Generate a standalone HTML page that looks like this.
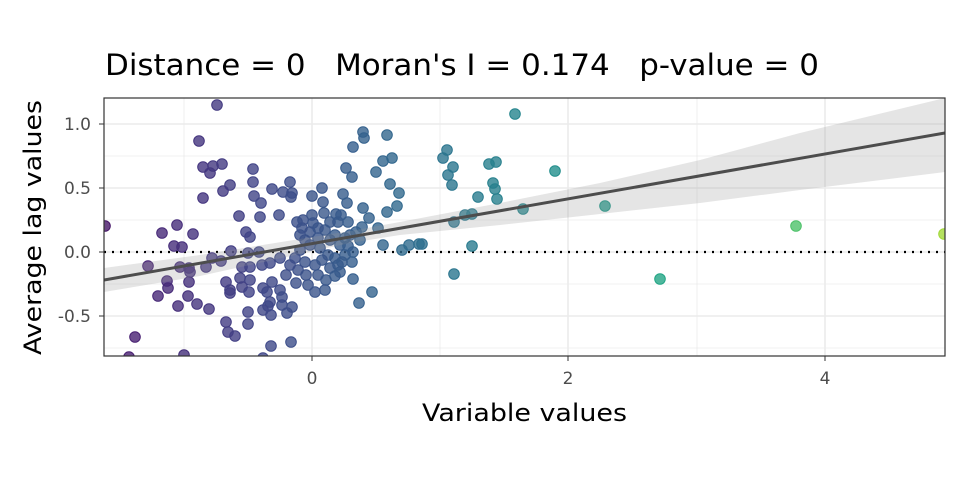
<!DOCTYPE html>
<html><head><meta charset="utf-8"><style>
body{margin:0;background:#fff;width:960px;height:480px;overflow:hidden}
text{font-family:"DejaVu Sans","Liberation Sans",sans-serif}
</style></head><body>
<svg id="s" width="960" height="480" xmlns="http://www.w3.org/2000/svg">
<rect width="960" height="480" fill="#fff"/>
<text x="105" y="75" font-size="29" fill="#000" textLength="714" lengthAdjust="spacingAndGlyphs" xml:space="preserve">Distance = 0   Moran's I = 0.174   p-value = 0</text>
<defs><clipPath id="c"><rect x="104" y="98" width="841" height="258"/></clipPath></defs>
<g stroke="#ebebeb" stroke-width="0.8">
<line x1="104" x2="945" y1="156" y2="156"/><line x1="104" x2="945" y1="220" y2="220"/><line x1="104" x2="945" y1="284" y2="284"/><line x1="104" x2="945" y1="348" y2="348"/>
<line y1="98" y2="356" x1="184" x2="184"/><line y1="98" y2="356" x1="440" x2="440"/><line y1="98" y2="356" x1="697" x2="697"/>
</g>
<g stroke="#ebebeb" stroke-width="1.6">
<line x1="104" x2="945" y1="124" y2="124"/><line x1="104" x2="945" y1="188" y2="188"/><line x1="104" x2="945" y1="252" y2="252"/><line x1="104" x2="945" y1="316" y2="316"/>
<line y1="98" y2="356" x1="312" x2="312"/><line y1="98" y2="356" x1="568" x2="568"/><line y1="98" y2="356" x1="825" x2="825"/>
</g>
<g clip-path="url(#c)">
<line x1="104" x2="945" y1="252" y2="252" stroke="#000" stroke-width="2.2" stroke-dasharray="2,6"/>
<g id="pts"></g>
<polygon points="104,268 200,255 300,239 350,231 400,222 500,203 600,183 700,160 800,133 945,98 945,172 800,190 700,203 600,214 500,225 400,235 350,243 300,254 200,276 104,292" fill="#999" fill-opacity="0.25"/>
<line x1="104" y1="280" x2="945" y2="133" stroke="#4d4d4d" stroke-width="3"/>
</g>
<rect x="104" y="98" width="841" height="258" fill="none" stroke="#333" stroke-width="1.2"/>
<g font-size="17" fill="#4d4d4d" text-anchor="end">
<text x="91" y="130">1.0</text><text x="91" y="194">0.5</text><text x="91" y="258">0.0</text><text x="91" y="322">-0.5</text></g>
<g stroke="#333" stroke-width="1"><line x1="99" x2="104" y1="124" y2="124"/><line x1="99" x2="104" y1="188" y2="188"/><line x1="99" x2="104" y1="252" y2="252"/><line x1="99" x2="104" y1="316" y2="316"/>
<line x1="312" x2="312" y1="356" y2="361"/><line x1="568" x2="568" y1="356" y2="361"/><line x1="825" x2="825" y1="356" y2="361"/></g>
<g font-size="17" fill="#4d4d4d" text-anchor="middle">
<text x="312" y="384">0</text><text x="568" y="384">2</text><text x="825" y="384">4</text></g>
<text x="422" y="421" font-size="24" textLength="205" lengthAdjust="spacingAndGlyphs">Variable values</text>
<text transform="translate(41,355) rotate(-90)" font-size="24" textLength="255" lengthAdjust="spacingAndGlyphs">Average lag values</text>
</svg>
<script>
var P=[[217,105],[199,141],[203,167],[210,173],[213,166],[222,164],[253,169],[253,182],[230,185],[223,191],[203,198],[254,196],[261,203],[272,189],[283,192],[290,182],[292,193],[291,197],[239,216],[260,217],[279,215],[105,226],[162,233],[177,225],[193,234],[174,246],[182,247],[148,266],[180,267],[189,268],[190,272],[167,281],[168,288],[158,296],[189,282],[188,296],[197,304],[178,306],[209,309],[246,232],[250,237],[231,251],[248,253],[259,252],[206,267],[212,258],[221,261],[242,267],[250,267],[262,265],[270,263],[280,258],[240,278],[250,280],[242,287],[249,292],[226,282],[230,290],[230,293],[263,288],[267,292],[272,282],[280,290],[282,297],[270,302],[268,306],[263,310],[271,315],[282,305],[292,307],[287,313],[248,312],[248,324],[226,322],[228,332],[235,336],[271,346],[291,342],[263,358],[135,337],[129,357],[184,355],
[297,222],[303,220],[312,215],[313,223],[322,188],[323,202],[324,213],[312,196],[343,194],[347,203],[363,208],[341,215],[348,222],[338,222],[369,218],[362,227],[378,228],[383,245],[353,252],[352,262],[353,279],[372,292],[359,303],[346,168],[352,177],[353,147],[363,132],[364,138],[387,135],[383,161],[392,158],[376,172],[390,184],[399,193],[397,206],[387,212],[402,250],[409,245],[419,244],
[300,235],[305,240],[310,232],[318,238],[325,230],[330,240],[335,235],[340,245],[345,238],[320,248],[328,255],[335,258],[300,250],[295,258],[305,262],[315,265],[322,260],[330,268],[338,265],[345,255],[350,235],[298,270],[306,275],[290,265],[286,275],[318,275],[326,280],[340,272],[308,285],[296,283],[330,222],[336,214],[318,228],[310,245],[302,228],[356,232],[360,240],[348,246],[342,262],[335,276],[325,290],[315,292],
[515,114],[443,158],[447,150],[453,167],[448,175],[452,185],[489,164],[496,162],[493,183],[495,189],[497,199],[478,197],[555,171],[605,206],[523,209],[454,222],[465,215],[472,214],[472,246],[454,274],[422,244],[660,279],[796,226],[944,234]];
function vir(t){var c=[[68,1,84],[72,36,117],[65,68,135],[53,95,141],[42,120,142],[33,145,140],[34,168,132],[68,191,112],[122,209,81],[189,223,38],[253,231,37]];t=Math.max(0,Math.min(1,t))*10;var i=Math.min(9,Math.floor(t)),f=t-i;return 'rgb('+c[i].map(function(v,k){return Math.round(v+(c[i+1][k]-v)*f)}).join(',')+')';}
var g=document.getElementById('pts'),h='';
P.forEach(function(p){var t=(p[0]-104)/(945-104)*0.8+0.06;var col=vir(t);h+='<circle cx="'+p[0]+'" cy="'+p[1]+'" r="5.3" fill="'+col+'" fill-opacity="0.8" stroke="'+col+'" stroke-width="1"/>';});
g.innerHTML=h;
</script>
</body></html>
